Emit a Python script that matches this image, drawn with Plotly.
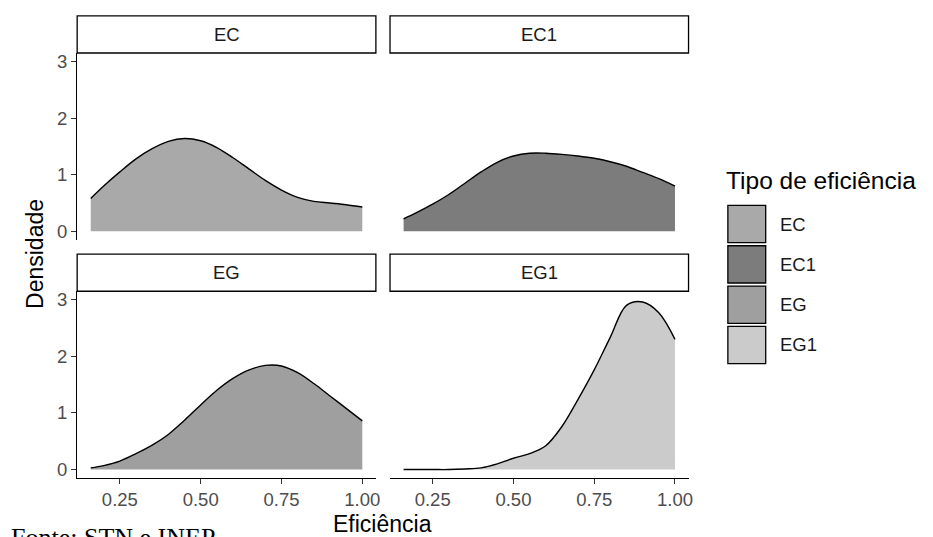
import plotly.graph_objects as go

W, H = 933, 537

# ---------------- data ----------------
eficiencia = [0.16, 0.20, 0.25, 0.30, 0.35, 0.40, 0.45, 0.50, 0.55,
              0.60, 0.65, 0.70, 0.75, 0.80, 0.85, 0.90, 0.95, 1.00]
tipos = ["EC", "EC1", "EG", "EG1"]
dens_EC = [0.58, 0.80, 1.05, 1.28, 1.46, 1.59, 1.64, 1.60, 1.48,
           1.30, 1.10, 0.90, 0.73, 0.60, 0.53, 0.50, 0.47, 0.43]
dens_EC1 = [0.22, 0.33, 0.48, 0.65, 0.85, 1.05, 1.22, 1.33, 1.38,
            1.38, 1.36, 1.33, 1.29, 1.23, 1.15, 1.04, 0.93, 0.80]
dens_EG = [0.03, 0.07, 0.15, 0.28, 0.43, 0.62, 0.87, 1.14, 1.40,
           1.61, 1.76, 1.84, 1.83, 1.71, 1.52, 1.30, 1.08, 0.86]
dens_EG1 = [0.00, 0.00, 0.00, 0.00, 0.01, 0.03, 0.10, 0.20, 0.28,
            0.42, 0.76, 1.24, 1.76, 2.34, 2.90, 2.96, 2.77, 2.30]
densidades = [dens_EC, dens_EC1, dens_EG, dens_EG1]
cores = ["#a9a9a9", "#7c7c7c", "#9f9f9f", "#cbcbcb"]
x_ticks = [0.25, 0.50, 0.75, 1.00]
x_ticklabels = ["0.25", "0.50", "0.75", "1.00"]
y_ticks = [0, 1, 2, 3]
y_ticklabels = ["0", "1", "2", "3"]

# ---------------- layout geometry (pixels) ----------------
def px_x(p):
    return p / W

def px_y(p):
    return 1 - p / H

col_dom = [[px_x(77.5), px_x(377.5)], [px_x(391.7), px_x(691.5)]]
row_dom = [[px_y(239.6), px_y(51.4)], [px_y(479.6), px_y(291.4)]]
strip_y = [[px_y(51.4), px_y(14)], [px_y(291.4), px_y(254)]]

SANS = "Liberation Sans, Arial, Helvetica, sans-serif"
TICKFONT = dict(family=SANS, size=18.5, color="#4d4d4d")

fig = go.Figure()

# panel order: EC top-left, EC1 top-right, EG bottom-left, EG1 bottom-right
panels = [(0, 0), (0, 1), (1, 0), (1, 1)]
axis_ids = ["3", "4", "", "2"]

for i, tipo in enumerate(tipos):
    aid = axis_ids[i]
    fig.add_trace(go.Scatter(
        x=eficiencia, y=densidades[i], mode="lines",
        line=dict(color="black", width=1.4, shape="spline", smoothing=1.0),
        fill="tozeroy", fillcolor=cores[i],
        xaxis="x" + aid, yaxis="y" + aid, showlegend=False, name=tipo,
        hoverinfo="x+y",
    ))

layout = dict(
    width=W, height=H,
    margin=dict(l=0, r=0, t=0, b=0),
    paper_bgcolor="white", plot_bgcolor="white",
    showlegend=False,
    font=dict(family=SANS),
)

for i, tipo in enumerate(tipos):
    r, c = panels[i]
    aid = axis_ids[i]
    bottom = (r == 1)
    left = (c == 0)
    layout["xaxis" + aid] = dict(
        domain=col_dom[c], anchor="y" + aid, range=[0.118, 1.042],
        tickvals=x_ticks, ticktext=x_ticklabels,
        showgrid=False, zeroline=False,
        showticklabels=bottom, ticks="outside" if bottom else "",
        ticklen=5, tickwidth=1, tickcolor="#333333",
        showline=bottom, linecolor="black", linewidth=1.3,
        tickfont=TICKFONT, fixedrange=True,
    )
    layout["yaxis" + aid] = dict(
        domain=row_dom[r], anchor="x" + aid, range=[-0.15, 3.15],
        tickvals=y_ticks, ticktext=y_ticklabels,
        showgrid=False, zeroline=False,
        showticklabels=left, ticks="outside" if left else "",
        ticklen=5, tickwidth=1, tickcolor="#333333",
        showline=left, linecolor="black", linewidth=1.3,
        tickfont=TICKFONT, fixedrange=True,
    )

fig.update_layout(**layout)

shapes = []
annotations = []

# facet strips
for i, tipo in enumerate(tipos):
    r, c = panels[i]
    shapes.append(dict(type="rect", xref="paper", yref="paper",
                       x0=col_dom[c][0], x1=col_dom[c][1],
                       y0=strip_y[r][0], y1=strip_y[r][1],
                       line=dict(color="black", width=1.3), fillcolor="white"))
    annotations.append(dict(text=tipo, xref="paper", yref="paper",
                            x=(col_dom[c][0] + col_dom[c][1]) / 2,
                            y=(strip_y[r][0] + strip_y[r][1]) / 2,
                            showarrow=False, xanchor="center", yanchor="middle",
                            font=dict(family=SANS, size=18.5, color="#1a1a1a")))

# axis titles
annotations.append(dict(text="Eficiência", xref="paper", yref="paper",
                        x=px_x(384), y=px_y(525.5), showarrow=False,
                        xanchor="center", yanchor="middle",
                        font=dict(family=SANS, size=23, color="black")))
annotations.append(dict(text="Densidade", xref="paper", yref="paper",
                        x=px_x(35), y=px_y(254), showarrow=False, textangle=-90,
                        xanchor="center", yanchor="middle",
                        font=dict(family=SANS, size=23, color="black")))

# legend (drawn manually)
annotations.append(dict(text="Tipo de eficiência", xref="paper", yref="paper",
                        x=px_x(727), y=px_y(180), showarrow=False,
                        xanchor="left", yanchor="middle",
                        font=dict(family=SANS, size=24.5, color="black")))
key_top, key_step, key_h = 205.0, 40.6, 37.5
for i, tipo in enumerate(tipos):
    t = key_top + i * key_step
    shapes.append(dict(type="rect", xref="paper", yref="paper",
                       x0=px_x(731), x1=px_x(769), y0=px_y(t + key_h), y1=px_y(t),
                       line=dict(color="black", width=1.3), fillcolor=cores[i]))
    annotations.append(dict(text=tipo, xref="paper", yref="paper",
                            x=px_x(781), y=px_y(t + key_h / 2), showarrow=False,
                            xanchor="left", yanchor="middle",
                            font=dict(family=SANS, size=18.5, color="#1a1a1a")))

# source note (cut by the bottom edge, as in the reference)
annotations.append(dict(text="Fonte: STN e INEP", xref="paper", yref="paper",
                        x=px_x(9), y=px_y(523), showarrow=False,
                        xanchor="left", yanchor="top",
                        font=dict(family="Liberation Serif, Times New Roman, serif",
                                  size=26, color="black")))

fig.update_layout(shapes=shapes, annotations=annotations)
fig.write_html("out.html", config={"displayModeBar": False},
               post_script="document.body.style.margin='0px';")
